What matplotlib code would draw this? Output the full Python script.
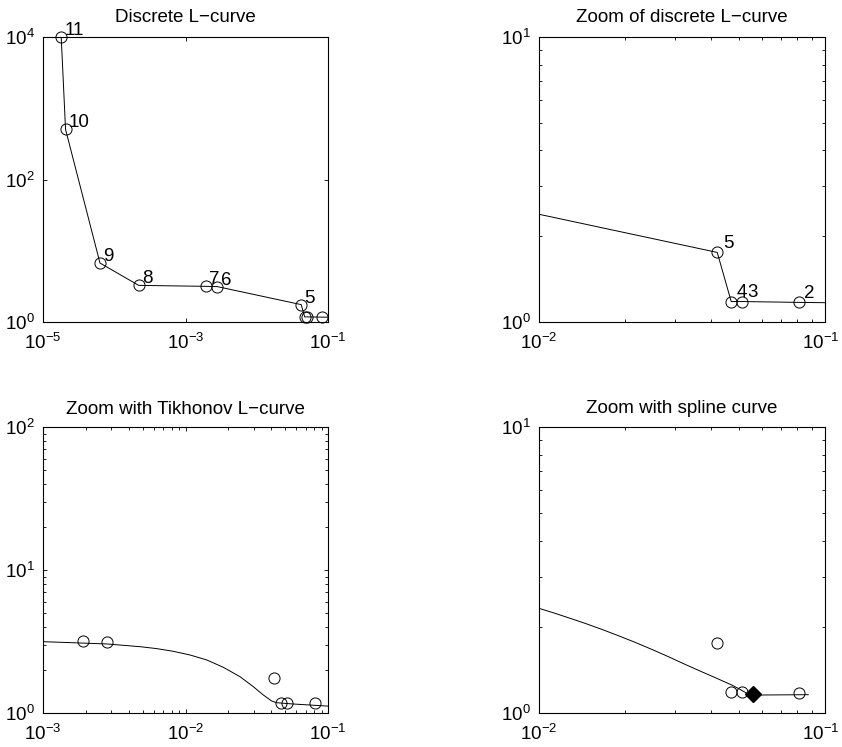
import matplotlib
matplotlib.use("Agg")
import matplotlib.pyplot as plt
import numpy as np
from matplotlib.ticker import FixedLocator, NullLocator, LogLocator
from matplotlib.transforms import ScaledTranslation

plt.rcParams['font.family'] = ['Liberation Sans', 'DejaVu Sans']
plt.rcParams['mathtext.fontset'] = 'custom'
plt.rcParams['mathtext.rm'] = 'Liberation Sans'
plt.rcParams['mathtext.it'] = 'Liberation Sans:italic'
plt.rcParams['mathtext.bf'] = 'Liberation Sans:bold'

# discrete L-curve, points 1..11 (residual norm, solution norm)
k = [1, 2, 3, 4, 5, 6, 7, 8, 9, 10, 11]
rho = [0.125, 0.081, 0.0513, 0.047, 0.042, 2.8e-3, 1.92e-3, 2.2e-4, 6.3e-5, 2.07e-5, 1.8e-5]
eta = [1.166, 1.172, 1.18, 1.18, 1.755, 3.14, 3.17, 3.27, 6.73, 506.0, 1.0e4]

# Tikhonov L-curve
tik_rho = [8e-4, 1.0e-3, 1.63e-3, 2.8e-3, 4.79e-3, 6.28e-3, 8.21e-3, 1.075e-2,
           1.409e-2, 1.842e-2, 2.413e-2, 2.99e-2, 3.516e-2, 4.026e-2, 4.365e-2,
           5.71e-2, 9.79e-2, 0.12]
tik_eta = [3.17, 3.153, 3.10, 3.04, 2.91, 2.82, 2.70, 2.545,
           2.35, 2.087, 1.794, 1.528, 1.336, 1.213, 1.18,
           1.156, 1.119, 1.113]

# spline curve and its corner
spl_rho = [0.009, 0.01, 0.01137, 0.01266, 0.01448, 0.01656, 0.01894, 0.02166,
           0.02477, 0.02833, 0.03239, 0.03706, 0.04236, 0.04718, 0.05045,
           0.05325, 0.0558, 0.0602, 0.0874]
spl_eta = [2.40, 2.323, 2.232, 2.154, 2.059, 1.962, 1.864, 1.767,
           1.670, 1.574, 1.480, 1.394, 1.315, 1.253, 1.210,
           1.172, 1.165, 1.156, 1.159]
corner_rho = [0.0558]
corner_eta = [1.165]

FS = 13.5


def setup(ax, xlim, ylim, xmaj, ymaj, minor, title, tpad):
    ax.set_xscale('log')
    ax.set_yscale('log')
    ax.set_xlim(xlim)
    ax.set_ylim(ylim)
    ax.xaxis.set_major_locator(FixedLocator(xmaj))
    ax.yaxis.set_major_locator(FixedLocator(ymaj))
    if minor:
        ax.xaxis.set_minor_locator(LogLocator(base=10, subs=np.arange(2, 10)))
        ax.yaxis.set_minor_locator(LogLocator(base=10, subs=np.arange(2, 10)))
    else:
        ax.xaxis.set_minor_locator(NullLocator())
        ax.yaxis.set_minor_locator(NullLocator())
    ax.yaxis.set_minor_formatter(plt.NullFormatter())
    ax.xaxis.set_minor_formatter(plt.NullFormatter())
    ax.tick_params(which='both', direction='in', top=True, right=True,
                   labelsize=FS, width=0.6)
    ax.tick_params(axis='x', which='major', length=3.0, pad=8)
    ax.tick_params(axis='y', which='major', length=3.0, pad=6)
    ax.tick_params(which='minor', length=2.2)
    for s in ax.spines.values():
        s.set_linewidth(0.8)
    ax.set_title(title, fontsize=FS, pad=tpad)


def markers(ax, xs, ys):
    xlo, xhi = ax.get_xlim()
    ylo, yhi = ax.get_ylim()
    px = [x for x, y in zip(xs, ys) if xlo <= x <= xhi and ylo <= y <= yhi]
    py = [y for x, y in zip(xs, ys) if xlo <= x <= xhi and ylo <= y <= yhi]
    ax.plot(px, py, 'o', mfc='none', mec='k', ms=8, mew=0.7, clip_on=False)


fig = plt.figure(figsize=(8.42, 7.47), dpi=100)

# top left
ax1 = fig.add_axes([0.0511, 0.5689, 0.3385, 0.3815])
setup(ax1, (1e-5, 1e-1), (1, 1e4), [1e-5, 1e-3, 1e-1], [1, 1e2, 1e4], False,
      'Discrete L\u2212curve', 11)
ax1.plot(rho, eta, 'k-', lw=0.7)
markers(ax1, rho, eta)
for i in range(4, 11):
    ax1.annotate(str(k[i]), (rho[i], eta[i]), xytext=(2.5, 1.5),
                 textcoords='offset points', fontsize=FS, va='baseline', ha='left')

# top right
ax2 = fig.add_axes([0.6401, 0.5689, 0.3397, 0.3815])
setup(ax2, (1e-2, 1e-1), (1, 10), [1e-2, 1e-1], [1, 10], True,
      'Zoom of discrete L\u2212curve', 11)
ax2.plot(rho, eta, 'k-', lw=0.7)
markers(ax2, rho, eta)
for i in range(1, 5):
    ax2.annotate(str(k[i]), (rho[i], eta[i]), xytext=(4, 3.5),
                 textcoords='offset points', fontsize=FS, va='baseline', ha='left')

# bottom left
ax3 = fig.add_axes([0.0511, 0.0455, 0.3385, 0.3829])
setup(ax3, (1e-3, 1e-1), (1, 1e2), [1e-3, 1e-2, 1e-1], [1, 10, 1e2], True,
      'Zoom with Tikhonov L\u2212curve', 9)
ax3.plot(tik_rho, tik_eta, 'k-', lw=0.7)
markers(ax3, rho, eta)

# bottom right
ax4 = fig.add_axes([0.6401, 0.0455, 0.3397, 0.3829])
setup(ax4, (1e-2, 1e-1), (1, 10), [1e-2, 1e-1], [1, 10], True,
      'Zoom with spline curve', 10)
ax4.plot(spl_rho, spl_eta, 'k-', lw=0.7)
markers(ax4, rho, eta)
ax4.plot(corner_rho, corner_eta, 'D', color='k', ms=8.5, clip_on=False)

# nudge the right-most x labels so they stay inside the figure
fig.canvas.draw()
for ax in (ax2, ax4):
    lbl = ax.xaxis.get_major_ticks()[-1].label1
    lbl.set_transform(lbl.get_transform() + ScaledTranslation(-4 / 100, 0, fig.dpi_scale_trans))

fig.savefig('out.png', dpi=100)
